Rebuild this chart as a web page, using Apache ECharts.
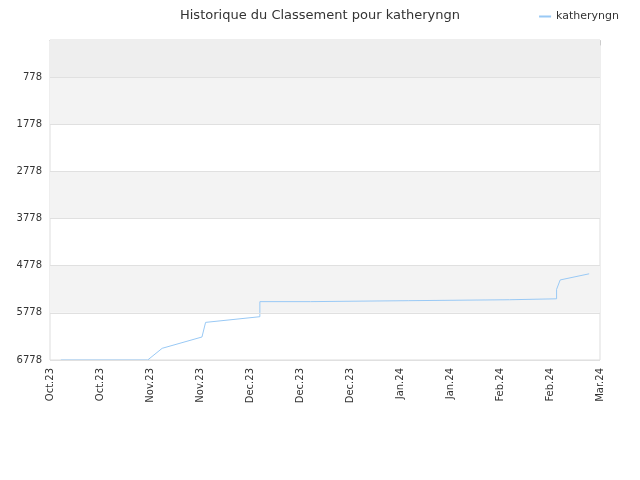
<!DOCTYPE html>
<html><head><meta charset="utf-8">
<script src="https://cdn.jsdelivr.net/npm/echarts@6/dist/echarts.min.js"></script>
<style>html,body{margin:0;padding:0;background:#fff}#c{width:640px;height:480px}</style>
</head><body><div id="c"></div>
<script>
const dates = ['2023-10-04','2023-10-28','2023-11-01','2023-11-12','2023-11-12','2023-11-13','2023-11-28','2023-11-28','2023-12-12','2023-12-12','2024-01-08','2024-01-08','2024-02-05','2024-02-05','2024-02-18','2024-02-18','2024-02-19','2024-02-27'];
const ranks = [6778,6778,6530,6290,6290,5980,5860,5540,5540,5520,5520,5500,5500,5480,5480,5280,5080,4950];
const yTicks = [778,1778,2778,3778,4778,5778,6778];
const xLabels = ['Oct.23','Oct.23','Nov.23','Nov.23','Dec.23','Dec.23','Dec.23','Jan.24','Jan.24','Feb.24','Feb.24','Mar.24'];
const bands = [[-9,778,'#eeeeee'],[778,1778,'#f3f3f3'],[2778,3778,'#f3f3f3'],[4778,5778,'#f3f3f3']];
const xMin = Date.UTC(2023,9,1), xMax = Date.UTC(2024,2,1);
const step = (xMax-xMin)/11;
const data = dates.map((d,i)=>[Date.parse(d+'T00:00:00Z'), ranks[i]]);
const chart = echarts.init(document.getElementById('c'));
chart.setOption({
  animation:false,
  title:{text:'Historique du Classement pour katheryngn',left:'center',top:4,textStyle:{fontSize:13,fontWeight:'normal',color:'#333',fontFamily:'DejaVu Sans'}},
  legend:{right:16,top:6,itemWidth:12,itemHeight:2,textStyle:{fontSize:11,color:'#333',fontFamily:'DejaVu Sans'},data:[{name:'katheryngn',icon:'rect'}]},
  grid:{left:50,right:40,top:40,bottom:120,show:true,borderColor:'#ddd',borderWidth:1},
  xAxis:{type:'value',min:xMin,max:xMax,interval:step,
    axisLine:{lineStyle:{color:'#ccc'}},axisTick:{show:true,lineStyle:{color:'#ccc'}},splitLine:{show:false},
    axisLabel:{rotate:90,fontSize:10,color:'#333',fontFamily:'DejaVu Sans',showMaxLabel:true,
      formatter:v=>xLabels[Math.round((v-xMin)/step)]||''}},
  yAxis:{type:'value',inverse:true,min:-9,max:6778,
    axisLine:{show:false},axisTick:{show:false},
    axisLabel:{customValues:yTicks,fontSize:10,color:'#333',fontFamily:'DejaVu Sans',formatter:v=>String(v)},
    splitLine:{show:false}},
  series:[{name:'katheryngn',type:'line',data:data,showSymbol:false,
    lineStyle:{color:'#99c9f5',width:1},itemStyle:{color:'#99c9f5'},
    markArea:{silent:true,data:bands.map(b=>[{yAxis:b[0],itemStyle:{color:b[2]}},{yAxis:b[1]}])},
    markLine:{silent:true,symbol:'none',label:{show:false},lineStyle:{color:'#e0e0e0',type:'solid',width:1},
      data:yTicks.map(v=>({yAxis:v}))}}]
});
</script></body></html>
